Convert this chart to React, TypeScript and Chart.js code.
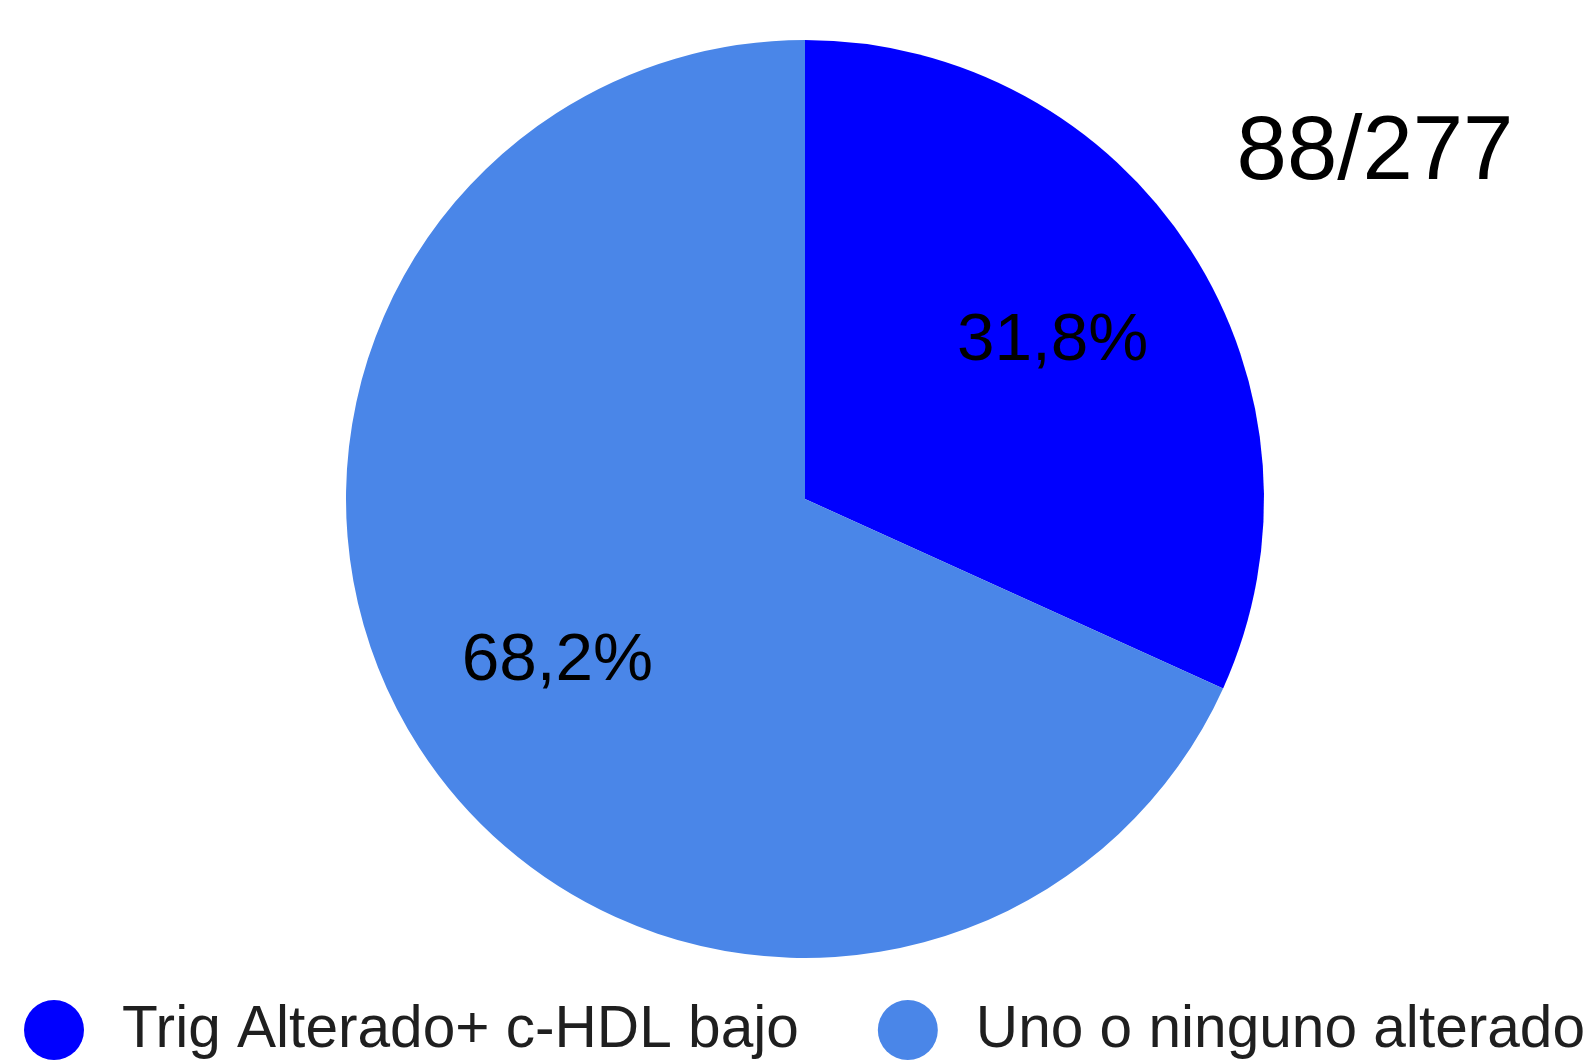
import React, { useEffect, useRef } from "react";
import { Chart, registerables } from "chart.js";

Chart.register(...registerables);

// ---- data ----
const categories: string[] = ["Trig Alterado+ c-HDL bajo", "Uno o ninguno alterado"];
const values: number[] = [88, 189];
const colors: string[] = ["#0000FF", "#4A86E8"];
const countLabel = "88/277";

const FONT = '"Liberation Sans", Arial, Helvetica, sans-serif';

const overlayPlugin = {
  id: "overlay",
  afterDatasetsDraw(chart: any) {
    const ctx: CanvasRenderingContext2D = chart.ctx;
    const meta = chart.getDatasetMeta(0);
    const data = chart.data.datasets[0].data as number[];
    const total = data.reduce((a, b) => a + b, 0);
    ctx.save();
    ctx.fillStyle = "#000";
    ctx.textAlign = "center";
    ctx.textBaseline = "alphabetic";
    const pf = 67.5;
    ctx.font = `${pf}px ${FONT}`;
    meta.data.forEach((arc: any, i: number) => {
      const { x, y, startAngle, endAngle, outerRadius } = arc.getProps(
        ["x", "y", "startAngle", "endAngle", "outerRadius"],
        true
      );
      const mid = (startAngle + endAngle) / 2;
      const r = outerRadius * 0.642;
      const tx = x + Math.cos(mid) * r;
      const ty = y + Math.sin(mid) * r + 21;
      const pct = ((data[i] / total) * 100).toFixed(1).replace(".", ",") + "%";
      ctx.fillText(pct, tx, ty);
    });

    // count label (top right)
    ctx.font = `90.5px ${FONT}`;
    ctx.fillText(countLabel, 1375, 179);
    ctx.restore();
  },
  afterDraw(chart: any) {
    const ctx: CanvasRenderingContext2D = chart.ctx;
    const labels = chart.data.labels as string[];
    const bg = chart.data.datasets[0].backgroundColor as string[];
    ctx.save();
    ctx.font = `58.6px ${FONT}`;
    ctx.textAlign = "left";
    ctx.textBaseline = "alphabetic";
    const d = 60;
    const gapText = 38;
    const gapItem = 79;
    const cy = 1030;
    let x = 24;
    labels.forEach((lab, i) => {
      ctx.fillStyle = bg[i];
      ctx.beginPath();
      ctx.arc(x + d / 2, cy, d / 2, 0, Math.PI * 2);
      ctx.fill();
      x += d + gapText;
      ctx.fillStyle = "#1f1f1f";
      ctx.fillText(lab, x, 1047);
      x += ctx.measureText(lab).width + gapItem;
    });
    ctx.restore();
  },
};

export default function App() {
  const ref = useRef<HTMLCanvasElement | null>(null);
  useEffect(() => {
    if (!ref.current) return;
    const chart = new Chart(ref.current, {
      type: "pie",
      data: {
        labels: categories,
        datasets: [
          {
            data: values,
            backgroundColor: colors,
            borderWidth: 0,
            hoverOffset: 0,
          },
        ],
      },
      options: {
        responsive: false,
        animation: false,
        layout: { padding: { left: 346, right: 325, top: 40, bottom: 103 } },
        plugins: {
          legend: { display: false },
          tooltip: { enabled: false },
          title: { display: false },
        },
      },
      plugins: [overlayPlugin],
    });
    return () => chart.destroy();
  }, []);
  return (
    <div style={{ position: "fixed", left: 0, top: 0, width: 1589, height: 1061, background: "#fff" }}>
      <canvas ref={ref} width={1589} height={1061} style={{ display: "block", width: 1589, height: 1061 }} />
    </div>
  );
}
